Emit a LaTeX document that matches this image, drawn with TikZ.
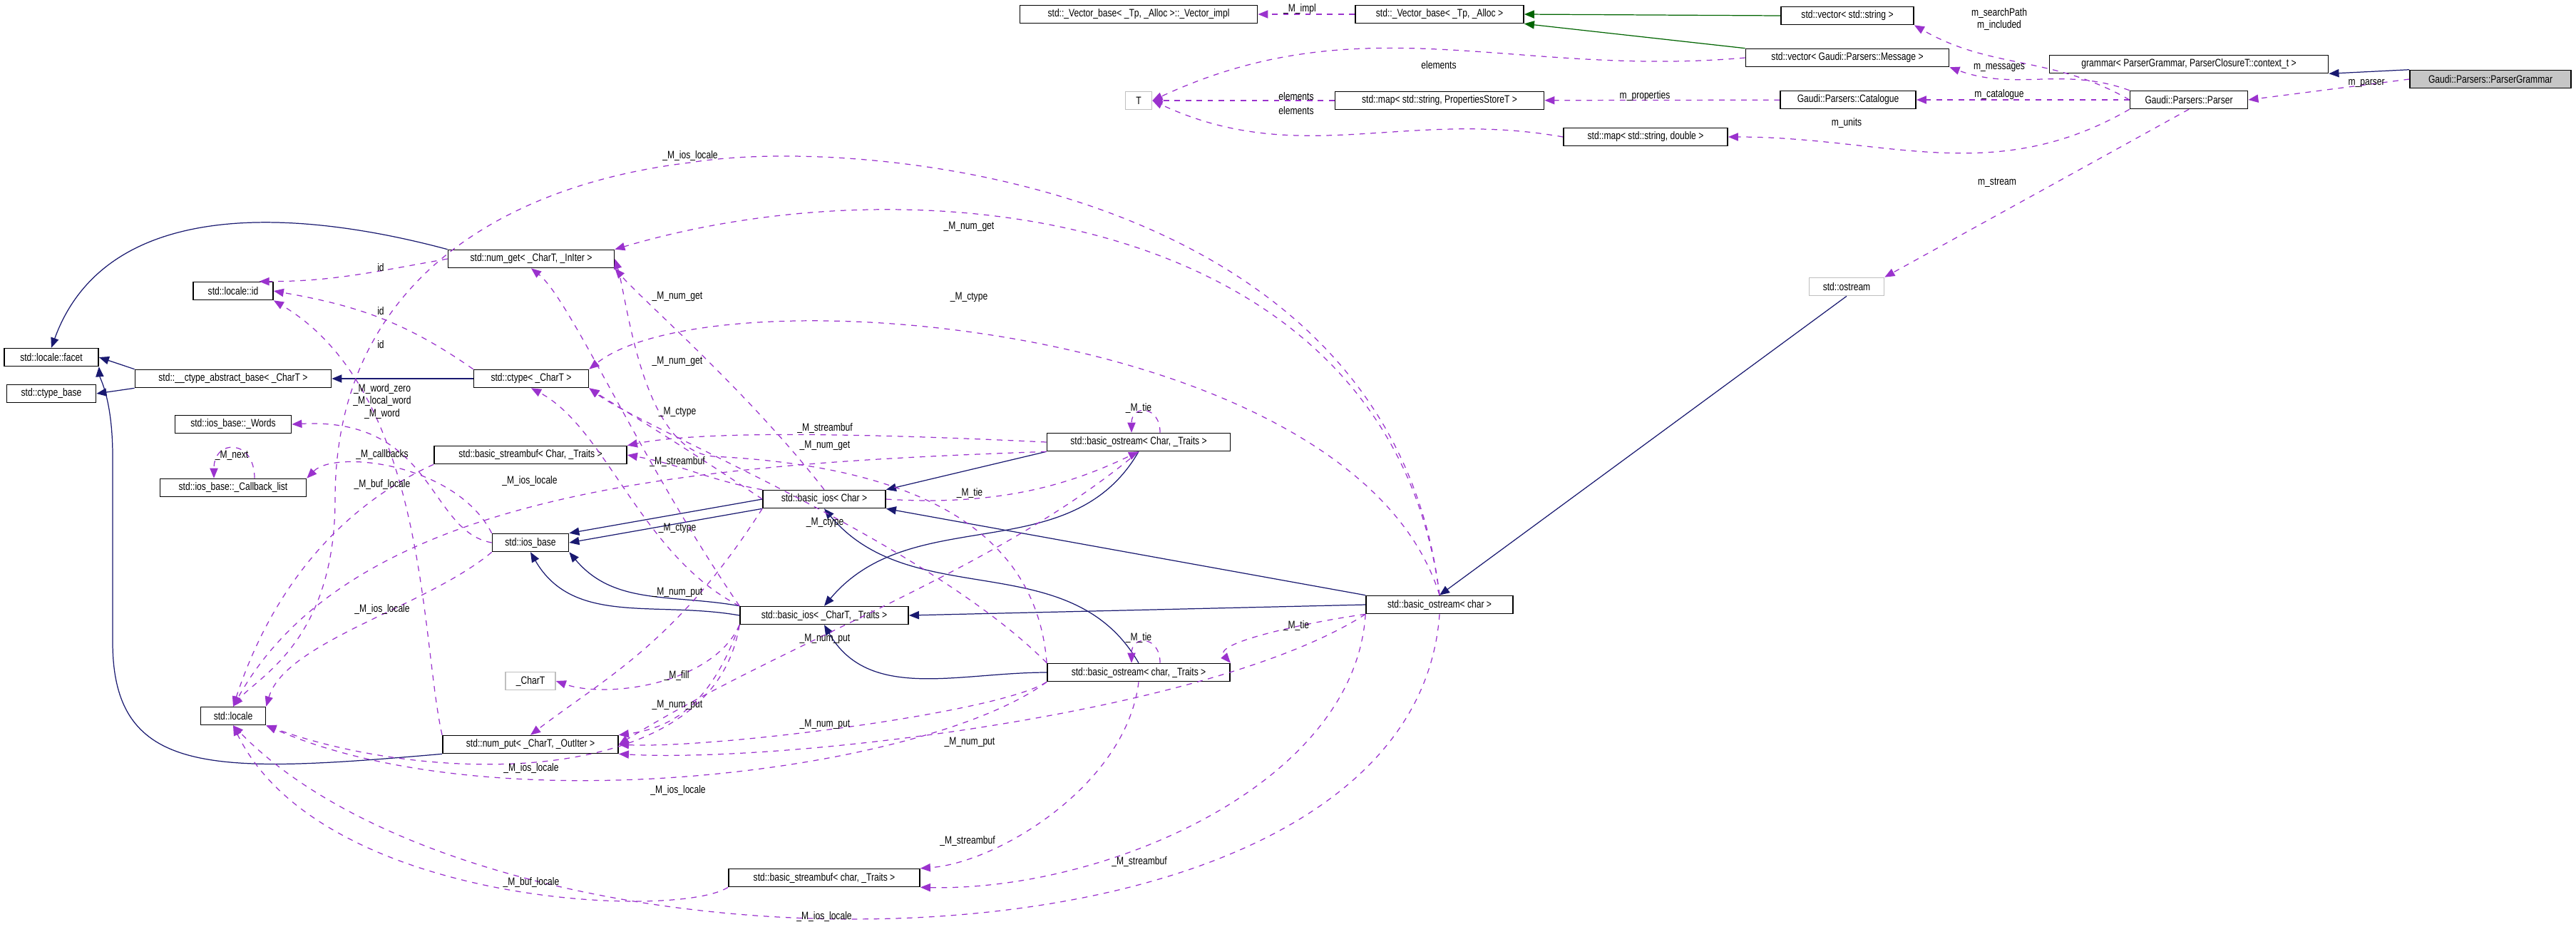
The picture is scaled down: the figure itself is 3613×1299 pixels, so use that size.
\documentclass[tikz,border=0pt]{standalone}
\usepackage{fontspec}
\setmainfont{Liberation Sans}[FakeStretch=0.8]
\usetikzlibrary{arrows.meta}
\definecolor{navy}{HTML}{191970}
\definecolor{dgreen}{HTML}{006400}
\definecolor{orchid}{HTML}{9A32CD}
\tikzset{
  cls/.style={draw, line width=0.45pt, minimum height=0.25cm, inner sep=1pt, font=\fontsize{4.3}{5}\selectfont},
  ext/.style={cls, draw=gray!50},
  inh/.style={navy, line width=0.35pt, -{Triangle[length=4pt,width=3.2pt]}},
  ginh/.style={inh, dgreen},
  use/.style={orchid, line width=0.35pt, dash pattern=on 2.2pt off 2.2pt, -{Triangle[length=4pt,width=3.2pt]}},
  lbl/.style={font=\fontsize{4.3}{5}\selectfont, inner sep=0pt, align=center}
}
\begin{document}
\begin{tikzpicture}[x=0.01cm, y=-0.01cm]
  \useasboundingbox (0,0) rectangle (3613,1299);

  % Gaudi parser classes
  \node[cls, fill=gray!45, minimum width=2.26cm] (pg) at (3493,111) {Gaudi::Parsers::ParserGrammar};
  \node[cls, minimum width=3.91cm] (gram) at (3070,90) {grammar< ParserGrammar, ParserClosureT::context\_t >};
  \node[cls, minimum width=3.33cm] (vimpl) at (1597,20) {std::\_Vector\_base< \_Tp, \_Alloc >::\_Vector\_impl};
  \node[cls, minimum width=2.36cm] (vbase) at (2019,20) {std::\_Vector\_base< \_Tp, \_Alloc >};
  \node[cls, minimum width=1.86cm] (vstr) at (2591,22) {std::vector< std::string >};
  \node[cls, minimum width=2.85cm] (vmsg) at (2591,81) {std::vector< Gaudi::Parsers::Message >};
  \node[ext, minimum width=0.37cm] (T) at (1597,141) {T};
  \node[cls, minimum width=2.93cm] (mprop) at (2019,141) {std::map< std::string, PropertiesStoreT >};
  \node[cls, minimum width=1.90cm] (cat) at (2592,140) {Gaudi::Parsers::Catalogue};
  \node[cls, minimum width=1.65cm] (parser) at (3070,140) {Gaudi::Parsers::Parser};
  \node[cls, minimum width=2.30cm] (mdbl) at (2308,192) {std::map< std::string, double >};
  \node[ext, minimum width=1.05cm] (ostream) at (2590,402) {std::ostream};

  % std stream classes
  \node[cls, minimum width=2.06cm] (bochar) at (2019,848) {std::basic\_ostream< char >};
  \node[cls, minimum width=2.57cm] (boCT) at (1597,620) {std::basic\_ostream< Char, \_Traits >};
  \node[cls, minimum width=2.56cm] (boct) at (1597,943) {std::basic\_ostream< char, \_Traits >};
  \node[cls, minimum width=1.72cm] (biosC) at (1156,700) {std::basic\_ios< Char >};
  \node[cls, minimum width=2.36cm] (biosT) at (1156,863) {std::basic\_ios< \_CharT, \_Traits >};
  \node[cls, minimum width=1.32cm] (facet) at (72,501) {std::locale::facet};
  \node[cls, minimum width=1.25cm] (ctbase) at (72,552) {std::ctype\_base};
  \node[cls, minimum width=2.75cm] (ctabs) at (327,531) {std::\_\_ctype\_abstract\_base< \_CharT >};
  \node[cls, minimum width=1.61cm] (ctype) at (745,531) {std::ctype< \_CharT >};
  \node[cls, minimum width=2.33cm] (numget) at (745,363) {std::num\_get< \_CharT, \_InIter >};
  \node[cls, minimum width=1.12cm] (lid) at (327,408) {std::locale::id};
  \node[cls, minimum width=1.63cm] (words) at (327,595) {std::ios\_base::\_Words};
  \node[cls, minimum width=2.70cm] (sbufC) at (744,638) {std::basic\_streambuf< Char, \_Traits >};
  \node[cls, minimum width=2.05cm] (cbl) at (327,684) {std::ios\_base::\_Callback\_list};
  \node[cls, minimum width=1.07cm] (iosb) at (744,761) {std::ios\_base};
  \node[cls, minimum width=0.91cm] (locale) at (327,1004) {std::locale};
  \node[ext, minimum width=0.70cm] (chart) at (744,955) {\_CharT};
  \node[cls, minimum width=2.46cm] (numput) at (744,1044) {std::num\_put< \_CharT, \_OutIter >};
  \node[cls, minimum width=2.68cm] (sbufc) at (1156,1231) {std::basic\_streambuf< char, \_Traits >};

  % inheritance
  \draw[inh] (pg.north west) -- (gram.south east);
  \draw[ginh] (vstr.west) -- (vbase.east);
  \draw[ginh] (vmsg.north west) -- (vbase.south east);
  \draw[inh] (ostream.south) -- (bochar.north);
  \draw[inh] (ctype) -- (ctabs);
  \draw[inh] (ctabs.north west) -- (facet.east);
  \draw[inh] (ctabs.south west) -- (ctbase.east);
  \draw[inh] (numget.north west) to[out=165,in=70] (facet.north);
  \draw[inh] (numput.south west) .. controls (300,1085) and (158,1090) .. (158,900)
    -- (158,640) .. controls (158,560) and (140,530) .. (facet.south east);
  \draw[inh] (biosC.west) -- (iosb.north east);
  \draw[inh] (biosC.south west) -- (iosb.east);
  \draw[inh] (biosT.north west) to[out=170,in=-50] (iosb.south east);
  \draw[inh] (biosT.west) to[out=170,in=-60] (iosb.south);
  \draw[inh] (boCT.south west) -- (biosC.north east);
  \draw[inh] (boCT.south) to[out=240,in=50] (biosT.north);
  \draw[inh] (bochar.north west) -- (biosC.south east);
  \draw[inh] (bochar.west) -- (biosT.east);
  \draw[inh] (boct.north) to[out=120,in=-50] (biosC.south);
  \draw[inh] (boct.west) to[out=180,in=-60] (biosT.south);

  % members: Gaudi parser
  \draw[use] (pg.west) -- (parser.east);
  \draw[use] (vbase) -- (vimpl);
  \draw[use] (parser.west) to[out=150,in=-30] (vstr.south east);
  \draw[use] (parser.north west) to[out=160,in=-20] (vmsg.south east);
  \draw[use] (parser.west) -- (cat.east);
  \draw[use] (parser.south west) to[out=-150,in=0] (mdbl.east);
  \draw[use] (parser.south) -- (ostream.north east);
  \draw[use] (cat) -- (mprop);
  \draw[use] (mprop) -- (T);
  \draw[use] (vmsg.west) to[out=185,in=25] (T.east);
  \draw[use] (mdbl.west) to[out=170,in=-25] (T.east);

  % members: locale ids, ios_base
  \draw[use] (numget.west) to[out=190,in=0] (lid.20);
  \draw[use] (ctype.north west) to[out=145,in=-10] (lid.east);
  \draw[use] (numput.north west) .. controls (590,900) and (600,550) .. (lid.south east);
  \draw[use] (iosb.west) .. controls (600,745) and (610,585) .. (words.east);
  \draw[use] (iosb.north west) .. controls (640,650) and (470,630) .. (cbl.north east);
  \draw[use] ([xshift=0.3cm]cbl.north) to[out=90,in=90,looseness=2.5] ([xshift=-0.27cm]cbl.north);

  % members: locale
  \draw[use] (sbufC.south west) .. controls (500,700) and (390,800) .. (locale.north);
  \draw[use] (iosb.south west) .. controls (600,850) and (400,900) .. (locale.north east);
  \draw[use] (boCT.south west) .. controls (1000,650) and (500,680) .. (locale.north);
  \draw[use] (bochar.north) .. controls (1950,250) and (1200,190) .. (968,228)
    .. controls (700,260) and (470,400) .. (470,700) .. controls (470,900) and (360,950) .. (locale.north);
  \draw[use] (biosT.south west) .. controls (1000,1110) and (600,1100) .. (locale.south east);
  \draw[use] (boct.south west) .. controls (1300,1080) and (700,1160) .. (locale.south east);
  \draw[use] (bochar.south) .. controls (1980,1400) and (700,1400) .. (locale.south);
  \draw[use] (sbufc.south west) .. controls (950,1290) and (450,1270) .. (locale.south);

  % members: streambuf
  \draw[use] (bochar.south west) .. controls (1900,1100) and (1550,1250) .. (sbufc.south east);
  \draw[use] (boct.south) .. controls (1580,1100) and (1400,1210) .. (sbufc.north east);
  \draw[use] (boCT.west) .. controls (1300,612) and (1000,600) .. (sbufC.north east);
  \draw[use] (biosC.north west) to[out=170,in=-10] (sbufC.east);

  % members: num_get, ctype
  \draw[use] (biosC.north) .. controls (1050,550) and (900,420) .. (numget.south east);
  \draw[use] (biosT.north west) .. controls (900,650) and (800,420) .. (numget.south);
  \draw[use] (boct.north west) .. controls (1450,700) and (1200,650) .. (1000,640)
    .. controls (900,630) and (880,420) .. (numget.east);
  \draw[use] (bochar.north) .. controls (1950,300) and (1300,220) .. (numget.north east);
  \draw[use] (biosC.west) .. controls (950,620) and (850,560) .. (ctype.south east);
  \draw[use] (biosT.north west) .. controls (900,780) and (850,600) .. (ctype.south);
  \draw[use] (boct.north west) .. controls (1300,760) and (900,600) .. (ctype.south east);
  \draw[use] (bochar.north) .. controls (1900,450) and (1000,380) .. (ctype.north east);

  % members: num_put, fill, tie
  \draw[use] (biosC.south west) .. controls (950,900) and (850,950) .. (numput.north);
  \draw[use] (biosT.south west) .. controls (1000,980) and (950,1020) .. (numput.north east);
  \draw[use] (boCT.south) .. controls (1400,800) and (1100,900) .. (numput.east);
  \draw[use] (boct.south west) .. controls (1400,1000) and (1000,1050) .. (numput.east);
  \draw[use] (bochar.south west) .. controls (1700,1000) and (1100,1070) .. (numput.south east);
  \draw[use] (biosT.south west) .. controls (1000,960) and (850,980) .. (chart.east);
  \draw[use] (biosC.east) .. controls (1400,710) and (1500,680) .. (boCT.south);
  \draw[use] ([xshift=0.3cm]boCT.north) to[out=90,in=90,looseness=2.5] ([xshift=-0.1cm]boCT.north);
  \draw[use] ([xshift=0.3cm]boct.north) to[out=90,in=90,looseness=2.5] ([xshift=-0.1cm]boct.north);
  \draw[use] (bochar.south west) .. controls (1850,870) and (1700,900) .. (boct.north east);

  % edge labels
  \foreach \p/\t in {(3319,117)/m\_parser, (2804,27)/m\_searchPath\\m\_included,
      (2804,95)/m\_messages, (2804,133)/m\_catalogue, (2590,173)/m\_units,
      (2801,256)/m\_stream, (2307,135)/m\_properties, (2018,91)/elements,
      (1818,135)/elements, (1818,155)/elements, (1823,13)/\_M\_impl,
      (534,375)/id, (534,436)/id, (534,483)/id,
      (536,563)/\_M\_word\_zero\\\_M\_local\_word\\\_M\_word,
      (325,639)/\_M\_next, (536,638)/\_M\_callbacks, (536,680)/\_M\_buf\_locale,
      (968,219)/\_M\_ios\_locale, (536,854)/\_M\_ios\_locale, (743,675)/\_M\_ios\_locale,
      (745,1077)/\_M\_ios\_locale, (951,1108)/\_M\_ios\_locale, (1156,1285)/\_M\_ios\_locale,
      (745,1237)/\_M\_buf\_locale, (1598,1208)/\_M\_streambuf, (1357,1179)/\_M\_streambuf,
      (1157,601)/\_M\_streambuf, (950,648)/\_M\_streambuf,
      (1359,318)/\_M\_num\_get, (950,416)/\_M\_num\_get, (950,507)/\_M\_num\_get,
      (1157,625)/\_M\_num\_get, (1359,417)/\_M\_ctype, (950,578)/\_M\_ctype,
      (950,741)/\_M\_ctype, (1157,733)/\_M\_ctype,
      (950,831)/\_M\_num\_put, (1157,896)/\_M\_num\_put, (950,989)/\_M\_num\_put,
      (1157,1016)/\_M\_num\_put, (1360,1041)/\_M\_num\_put, (949,947)/\_M\_fill,
      (1597,573)/\_M\_tie, (1360,692)/\_M\_tie, (1597,894)/\_M\_tie, (1818,877)/\_M\_tie}
    \node[lbl] at \p {\t};
\end{tikzpicture}
\end{document}
